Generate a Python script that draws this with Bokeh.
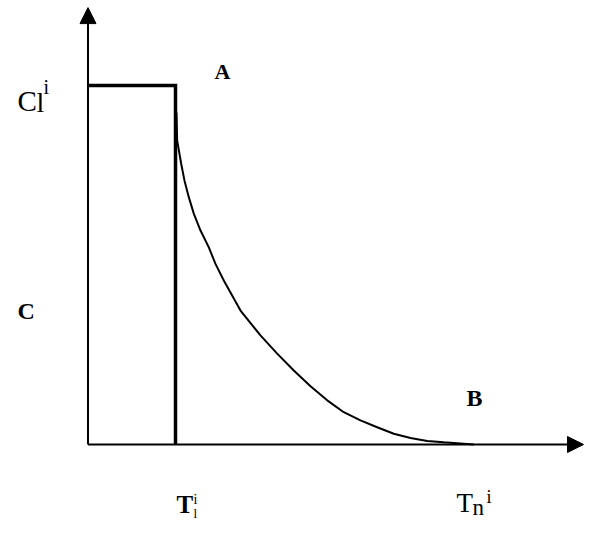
from bokeh.plotting import figure
from bokeh.models import Arrow, NormalHead, Label, Range1d
from bokeh.embed import file_html
from bokeh.resources import INLINE

# ---- data (T1 = 1 time unit, C1 = 1 concentration unit) ----
T1 = 1.0
Tn = 4.41
C1 = 1.0
step_t = [0.0, T1, T1]
step_c = [C1, C1, 0.0]
curve_t = [1.011, 1.019, 1.065, 1.103, 1.152, 1.209, 1.286, 1.381, 1.457,
           1.552, 1.743, 1.971, 2.162, 2.352, 2.543, 2.734, 2.923, 3.114,
           3.305, 3.495, 3.686, 3.877, 4.066, 4.257, 4.41]
curve_c = [0.925, 0.847, 0.782, 0.735, 0.689, 0.643, 0.596, 0.549, 0.503,
           0.457, 0.373, 0.304, 0.253, 0.206, 0.162, 0.123, 0.090, 0.067,
           0.048, 0.030, 0.018, 0.010, 0.006, 0.003, 0.0]
x_axis_end = 5.663
y_axis_end = 1.217

# pixel -> data helpers (page pixel coordinates of the reference)
X0, SX = 87.5, 87.5
Y0, SY = 444.0, 359.0
def dx(X):
    return (X - X0) / SX
def dy(Y):
    return (Y0 - Y) / SY

W, H = 584, 529
p = figure(width=W, height=H, output_backend="svg", toolbar_location=None,
           x_range=Range1d(dx(0), dx(W)), y_range=Range1d(dy(H), dy(0)),
           min_border=0, min_border_left=0, min_border_right=0,
           min_border_top=0, min_border_bottom=0)
p.axis.visible = False
p.grid.visible = False
p.outline_line_color = None
p.background_fill_color = "white"
p.border_fill_color = "white"

# axes with arrow heads
p.add_layout(Arrow(x_start=0, y_start=0, x_end=x_axis_end, y_end=0,
                   line_width=2, line_color="black",
                   end=NormalHead(size=16, fill_color="black", line_color="black")))
p.add_layout(Arrow(x_start=0, y_start=0, x_end=0, y_end=y_axis_end,
                   line_width=2, line_color="black",
                   end=NormalHead(size=16, fill_color="black", line_color="black")))

# step and decay curve
p.line(step_t, step_c, line_width=3.5, line_color="black", line_join="miter")
p.line(curve_t, curve_c, line_width=2, line_color="black")

SERIF = "Liberation Serif"
def lab(text, X, Y, size, bold=False):
    p.add_layout(Label(x=dx(X), y=dy(Y - 8), text=text, text_font=SERIF,
                       text_font_size=f"{size}px",
                       text_font_style="bold" if bold else "normal",
                       text_color="black", text_align="left",
                       text_baseline="alphabetic"))

lab("A", 214, 79, 22, True)
lab("B", 466, 405, 24, True)
lab("C", 17, 318, 24, True)

lab("C", 17, 108, 29)
lab("l", 36, 110, 28)
lab("i", 43, 94, 20)

lab("T", 176, 512, 25, True)
lab("i", 193, 507, 14)
lab("l", 193, 521, 13)

lab("T", 456, 510, 27)
lab("n", 472, 515, 23)
lab("i", 486, 504, 18)

open("out.html", "w").write(file_html(p, INLINE))
